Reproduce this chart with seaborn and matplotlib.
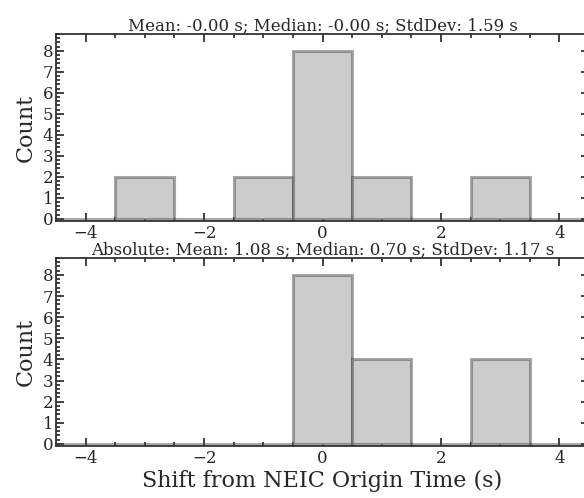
import numpy as np
import pandas as pd
import matplotlib
matplotlib.use("Agg")
import matplotlib.pyplot as plt
from matplotlib.ticker import MultipleLocator
import seaborn as sns

# Data (bin centers in seconds and counts)
bin_centers = [-4, -3, -2, -1, 0, 1, 2, 3, 4]
shift_counts = [0, 2, 0, 2, 8, 2, 0, 2, 0]
abs_counts = [0, 0, 0, 0, 8, 4, 0, 4, 0]
bin_edges = [-4.5, -3.5, -2.5, -1.5, -0.5, 0.5, 1.5, 2.5, 3.5, 4.5]
title_top = "Mean: -0.00 s; Median: -0.00 s; StdDev: 1.59 s"
title_bottom = "Absolute: Mean: 1.08 s; Median: 0.70 s; StdDev: 1.17 s"
x_label = "Shift from NEIC Origin Time (s)"
y_label = "Count"

sns.set_style("white")
plt.rcParams['font.family'] = ['DejaVu Serif']

W, H = 584, 498
fig = plt.figure(figsize=(W / 100, H / 100), dpi=100)

def frac(left, right, top, bottom):
    return [left / W, (H - bottom) / H, (right - left) / W, (bottom - top) / H]

ax1 = fig.add_axes(frac(56, 589, 34, 221))
ax2 = fig.add_axes(frac(56, 589, 258, 446))

for ax, counts, title in [(ax1, shift_counts, title_top), (ax2, abs_counts, title_bottom)]:
    df = pd.DataFrame({"x": bin_centers, "w": counts})
    sns.histplot(data=df, x="x", weights="w", bins=bin_edges, ax=ax,
                 color="#cccccc", alpha=1.0, edgecolor=(0.25, 0.25, 0.25, 0.45),
                 linewidth=2.2)
    ax.set_xlim(-4.5, 4.5)
    ax.set_ylim(-0.1, 8.8)
    ax.set_title(title, fontsize=12, pad=2.5)
    ax.set_ylabel(y_label, fontsize=16, labelpad=4)
    ax.set_xlabel("")
    ax.xaxis.set_major_locator(MultipleLocator(2))
    ax.xaxis.set_minor_locator(MultipleLocator(0.5))
    ax.yaxis.set_major_locator(MultipleLocator(1))
    ax.yaxis.set_minor_locator(MultipleLocator(0.2))
    ax.tick_params(which="both", direction="in", top=True, right=True,
                   left=True, bottom=True,
                   labelsize=12, color="#222222", width=1.2, pad=3)
    ax.tick_params(which="major", length=6)
    ax.tick_params(which="minor", length=3, right=False)
    ax.tick_params(axis="y", which="major", pad=2)
    for s in ax.spines.values():
        s.set_color("#333333")
        s.set_linewidth(1.3)

ax2.set_xlabel(x_label, fontsize=16, labelpad=2)

fig.savefig("out.png", dpi=100)
